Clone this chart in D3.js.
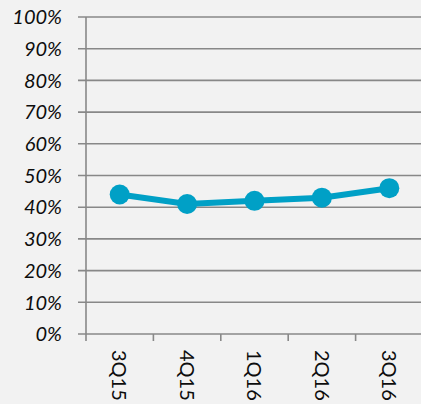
<!DOCTYPE html>
<html><head><meta charset="utf-8">
<script src="https://cdn.jsdelivr.net/npm/d3@7"></script>
<style>html,body{margin:0;padding:0;background:#f2f2f2;overflow:hidden}</style>
</head><body>
<svg id="c" width="421" height="404"></svg>
<script>
const categories = ["3Q15","4Q15","1Q16","2Q16","3Q16"];
const values = [44, 41, 42, 43, 46];
const yTicks = [0,10,20,30,40,50,60,70,80,90,100];

(function(){
const svg = d3.select("#c");
svg.append("rect").attr("width",421).attr("height",404).attr("fill","#f2f2f2");
const mLeft = 86, mRight = 423, mTop = 17, mBottom = 334;
const x = d3.scaleBand().domain(categories).range([mLeft, mRight]).padding(0);
const y = d3.scaleLinear().domain([0,100]).range([mBottom, mTop]);
const grid = "#888888";
const font = "Lato, 'Open Sans', sans-serif";

svg.append("g").selectAll("line").data(yTicks).join("line")
  .attr("x1", mLeft-8).attr("x2", 421)
  .attr("y1", d=>y(d)).attr("y2", d=>y(d))
  .attr("stroke", grid).attr("stroke-width", 1.6);

svg.append("line").attr("x1",mLeft).attr("x2",mLeft).attr("y1",y(100)).attr("y2",mBottom+7)
  .attr("stroke",grid).attr("stroke-width",1.6);

const bounds = categories.map(c=>x(c)).concat([x(categories[categories.length-1])+x.bandwidth()]);
svg.append("g").selectAll("line").data(bounds.slice(1)).join("line")
  .attr("x1",d=>d).attr("x2",d=>d).attr("y1",mBottom).attr("y2",mBottom+7)
  .attr("stroke",grid).attr("stroke-width",1.6);

svg.append("g").selectAll("text").data(yTicks).join("text")
  .attr("x", 62).attr("y", d=>y(d)).attr("dy","0.36em")
  .attr("text-anchor","end").attr("font-family",font).attr("font-style","italic")
  .attr("font-size",20).attr("fill","#0d0d0d").text(d=>d+"%");

svg.append("g").selectAll("text").data(categories).join("text")
  .attr("transform", d=>`translate(${x(d)+x.bandwidth()/2},350) rotate(90)`)
  .attr("dy","0.36em").attr("text-anchor","start")
  .attr("font-family",font).attr("font-size",20).attr("fill","#0d0d0d").text(d=>d);

const cx = d => x(d)+x.bandwidth()/2;
svg.append("path").datum(values)
  .attr("d", d3.line().x((d,i)=>cx(categories[i])).y(d=>y(d)))
  .attr("fill","none").attr("stroke","#00a0c6").attr("stroke-width",6);
svg.append("g").selectAll("circle").data(values).join("circle")
  .attr("cx",(d,i)=>cx(categories[i])).attr("cy",d=>y(d)).attr("r",10)
  .attr("fill","#00a0c6");
})();
</script>
</body></html>
